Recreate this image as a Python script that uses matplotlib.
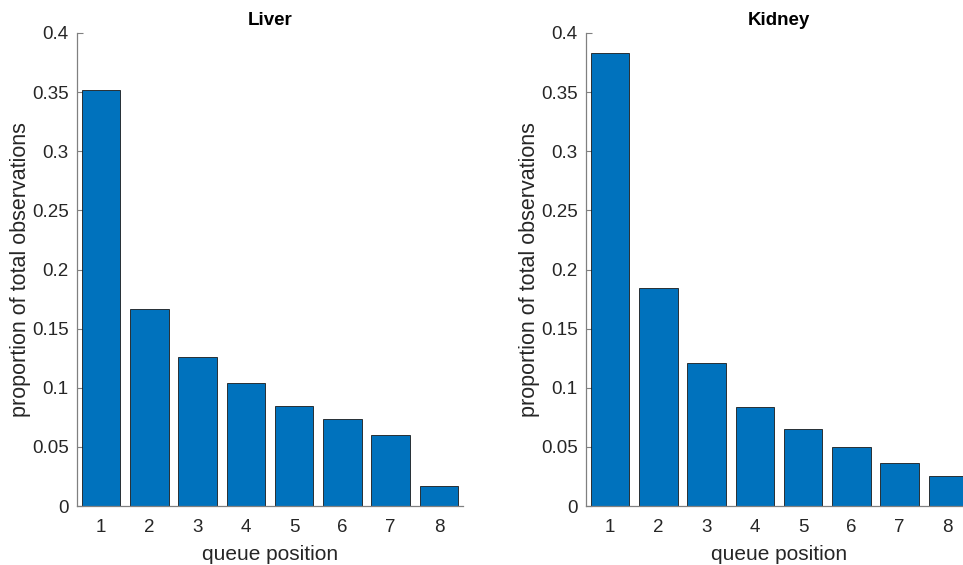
import numpy as np
import matplotlib
matplotlib.use("Agg")
import matplotlib.pyplot as plt

positions = [1, 2, 3, 4, 5, 6, 7, 8]
liver = [0.352, 0.167, 0.126, 0.104, 0.0845, 0.0733, 0.060, 0.0169]
kidney = [0.3835, 0.184, 0.121, 0.084, 0.0653, 0.0496, 0.036, 0.0256]
yticks = [0, 0.05, 0.1, 0.15, 0.2, 0.25, 0.3, 0.35, 0.4]

plt.rcParams['font.family'] = ['Liberation Sans', 'DejaVu Sans']

fig = plt.figure(figsize=(9.63, 5.65), dpi=100)
ax1 = fig.add_axes([0.080, 0.1044, 0.4008, 0.8372])
ax2 = fig.add_axes([0.6085, 0.1044, 0.4008, 0.8372])

for ax, vals, title in [(ax1, liver, 'Liver'), (ax2, kidney, 'Kidney')]:
    ax.bar(positions, vals, width=0.8, color='#0072BD', edgecolor='#1a1a1a', linewidth=0.6, zorder=2)
    ax.set_xlim(0.5, 8.5)
    ax.set_ylim(0, 0.4)
    ax.set_xticks(positions)
    ax.set_yticks(yticks)
    ax.set_yticklabels([f'{v:g}' for v in yticks])
    ax.spines['top'].set_visible(False)
    ax.spines['right'].set_visible(False)
    for s in ['left', 'bottom']:
        ax.spines[s].set_color('#808080')
        ax.spines[s].set_linewidth(0.9)
    ax.tick_params(direction='in', length=4, width=0.8, color='#808080',
                   labelsize=13.5, labelcolor='#262626')
    ax.tick_params(axis='x', pad=9)
    ax.tick_params(axis='y', pad=6)
    ax.set_title(title, fontsize=13.5, fontweight='bold', pad=6)
    ax.set_xlabel('queue position', fontsize=15, color='#262626', labelpad=7)
    ax.set_ylabel('proportion of total observations', fontsize=15.5, color='#262626', labelpad=1)

fig.savefig('out.png', dpi=100)
